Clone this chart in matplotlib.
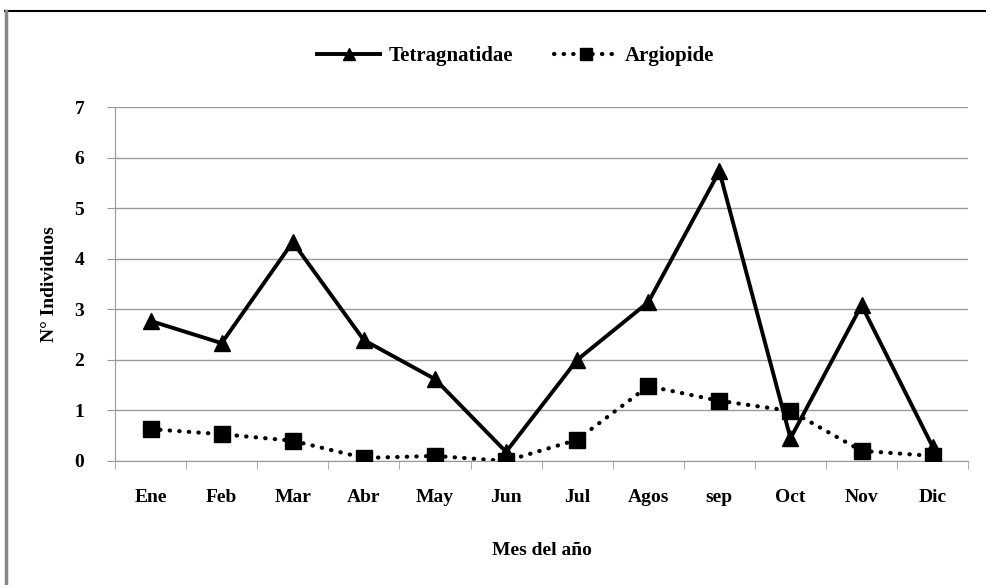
import matplotlib
matplotlib.use("Agg")
import matplotlib.pyplot as plt
from matplotlib.lines import Line2D
import numpy as np

# Data
meses = ["Ene", "Feb", "Mar", "Abr", "May", "Jun", "Jul", "Agos", "sep", "Oct", "Nov", "Dic"]
tetragnatidae = [2.77, 2.33, 4.33, 2.39, 1.62, 0.18, 2.0, 3.14, 5.73, 0.45, 3.08, 0.28]
argiopide = [0.63, 0.53, 0.40, 0.06, 0.10, 0.0, 0.42, 1.48, 1.19, 0.99, 0.20, 0.10]

plt.rcParams['font.family'] = ['Liberation Serif', 'DejaVu Serif']

fig = plt.figure(figsize=(9.87, 5.85), dpi=100)
ax = fig.add_axes([0.1165, 0.212, 0.8645, 0.605])

x = np.arange(len(meses))
ax.plot(x, tetragnatidae, color="black", lw=2.8, marker="^", markersize=11,
        label="Tetragnatidae", zorder=4)
ax.plot(x, argiopide, color="black", lw=3, ls=(0, (0.1, 2.2)), dash_capstyle="round",
        marker="s", markersize=11, label="Argiopide", zorder=3)

ax.set_xlim(-0.5, len(meses) - 0.5)
ax.set_ylim(0, 7)
ax.set_yticks(range(0, 8))
ax.yaxis.grid(True, color="#999999", lw=1)
ax.set_axisbelow(True)

ax.set_xticks(x)
ax.set_xticklabels(meses, fontsize=14, fontweight="bold")
ax.set_xticks(np.arange(-0.5, len(meses)), minor=True)
ax.tick_params(axis="x", which="major", length=0, pad=20)
ax.tick_params(axis="x", which="minor", length=6, color="#999999", direction="out")
ax.tick_params(axis="y", length=6, color="#999999", labelsize=14, pad=16)
for lab in ax.get_yticklabels():
    lab.set_fontweight("bold")

for side in ["top", "right"]:
    ax.spines[side].set_visible(False)
ax.spines["left"].set_color("#999999")
ax.spines["bottom"].set_color("#999999")

ax.set_ylabel("N° Individuos", fontsize=14, fontweight="bold", labelpad=12)
ax.set_xlabel("Mes del año", fontsize=14, fontweight="bold", labelpad=26)

ax.legend(loc="upper center", bbox_to_anchor=(0.47, 1.225), ncol=2, frameon=False,
          prop={"weight": "bold", "size": 15}, handlelength=3.0,
          columnspacing=2.0, handletextpad=0.4, markerscale=0.8)

# outer frame like the screenshot
fig.add_artist(Line2D([0.005, 1.0], [1 - 11 / 585, 1 - 11 / 585], color="black", lw=1.5,
                      transform=fig.transFigure))
fig.add_artist(Line2D([0.006, 0.006], [0.0, 1 - 11 / 585], color="#888888", lw=2.5,
                      transform=fig.transFigure))

fig.savefig("out.png", dpi=100)
